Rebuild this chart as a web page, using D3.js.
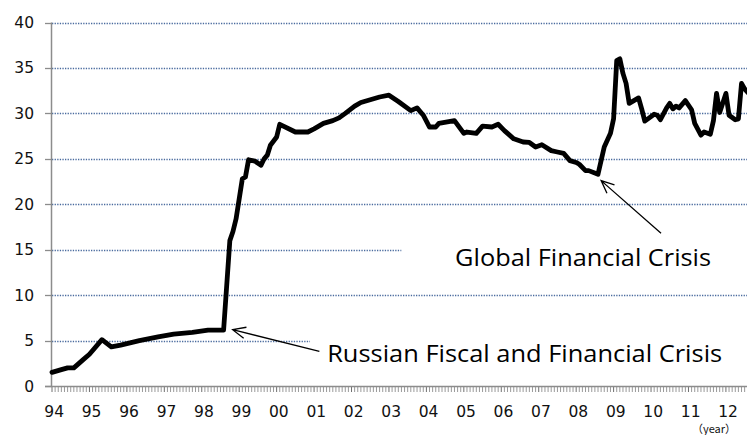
<html>
<head>
  <meta charset="utf-8">
  <script src="https://d3js.org/d3.v7.min.js"></script>
  <style>
    body { margin: 0; background: #fff; }
    svg { display: block; }
  </style>
</head>
<body>
  <script>
    // year labels on the x axis (one every 12 months, starting Jan 1994)
    let yearLabels = ["94","95","96","97","98","99","00","01","02","03","04","05","06","07","08","09","10","11","12"];
    let yTicks = [0, 5, 10, 15, 20, 25, 30, 35, 40];

    // months since Jan 1994 and the value read for that month
    let monthIdx = [0, 3, 5, 7, 10, 12, 16, 19, 22, 28, 34, 39, 45, 50, 55,
      57, 58, 59, 61, 62, 63, 65, 67, 68, 69, 70, 72, 73, 78, 82, 84, 87, 90, 92, 94, 97, 99,
      102, 105, 108, 111, 115, 117, 119, 121, 123, 124, 129, 132, 133, 136, 138, 141, 143, 145,
      148, 151, 153, 155, 157, 160, 162, 164, 166, 168, 169, 171, 172, 175, 177, 179, 180, 181,
      182, 183, 184, 185, 188, 189, 190, 191, 193, 194, 195, 197, 198, 199, 200, 201, 203, 205,
      206, 208, 209, 211, 212, 213, 214, 216, 217, 219, 220, 221, 222, 223, 224];
    let values = [1.5, 1.8, 2.0, 2.0, 2.9, 3.5, 5.1, 4.3, 4.5, 5.0, 5.4, 5.7, 5.9, 6.15, 6.15,
      16.0, 17.0, 18.4, 22.8, 23.0, 24.9, 24.75, 24.3, 25.0, 25.4, 26.5, 27.4, 28.8, 27.95, 27.95, 28.3, 28.9, 29.2, 29.5, 30.0, 30.8, 31.2,
      31.5, 31.8, 32.0, 31.3, 30.3, 30.6, 29.8, 28.5, 28.5, 28.9, 29.2, 27.8, 27.95, 27.8, 28.6, 28.5, 28.8, 28.1,
      27.2, 26.85, 26.8, 26.3, 26.55, 25.9, 25.75, 25.6, 24.8, 24.6, 24.4, 23.7, 23.7, 23.3, 26.3, 27.8, 29.4, 35.8,
      36.0, 34.4, 33.3, 31.1, 31.7, 30.5, 29.15, 29.4, 29.9, 29.8, 29.3, 30.6, 31.1, 30.5, 30.8, 30.6, 31.4, 30.4,
      28.9, 27.6, 27.95, 27.7, 29.2, 32.2, 30.1, 32.2, 29.8, 29.3, 29.4, 33.3, 32.7, 32.3, 32.0];

    // annotations: arrow tip / tail and label, in data coordinates
    let notes = [
      { text: "Global Financial Crisis", tip: [176, 22.6], tail: [195.2, 16.8], lx: [129.2, 13.2], len: 256, box: [112, 18.1, 14.0] },
      { text: "Russian Fiscal and Financial Crisis", tip: [57.9, 6.2], tail: [85.7, 3.8], lx: [88.2, 2.65], len: 395, box: [82.7, 5.6, 1.0] }
    ];

    let width = 747;
    let height = 435;
    let left = 52;
    let monthW = 3.12;

    let svg = d3.select("body")
      .append("svg")
      .attr("width", width)
      .attr("height", height);

    let x = d3.scaleLinear()
      .domain([0, 228])
      .range([left, left + 228 * monthW]);

    let y = d3.scaleLinear()
      .domain([0, 40])
      .range([386, 22.5]);

    // gridlines
    svg.append("g")
      .selectAll("line")
      .data(yTicks.filter(d => d > 0))
      .enter()
      .append("line")
      .attr("x1", left)
      .attr("x2", x(228))
      .attr("y1", d => Math.round(y(d)) + 0.5)
      .attr("y2", d => Math.round(y(d)) + 0.5)
      .attr("stroke", "#4a6b9e")
      .attr("stroke-width", 1.3)
      .attr("stroke-dasharray", "1.3,1.3");

    // y axis
    let yAxis = svg.append("g");
    yAxis.append("line")
      .attr("x1", left - 0.5).attr("x2", left - 0.5)
      .attr("y1", y(40)).attr("y2", y(0))
      .attr("stroke", "#8c8c8c").attr("stroke-width", 1.5);
    yAxis.selectAll("line.tick")
      .data(yTicks)
      .enter()
      .append("line")
      .attr("class", "tick")
      .attr("x1", left - 7).attr("x2", left)
      .attr("y1", d => Math.round(y(d)) + 0.5)
      .attr("y2", d => Math.round(y(d)) + 0.5)
      .attr("stroke", "#8c8c8c").attr("stroke-width", 1.3);
    yAxis.selectAll("text")
      .data(yTicks)
      .enter()
      .append("text")
      .attr("x", 34)
      .attr("y", d => y(d) + 5.5)
      .attr("text-anchor", "end")
      .attr("font-family", "DejaVu Sans, sans-serif")
      .attr("font-size", 15.5)
      .attr("fill", "#111")
      .text(d => d);

    // x axis with monthly ticks
    let xAxis = svg.append("g");
    xAxis.selectAll("line.mtick")
      .data(d3.range(0, 229))
      .enter()
      .append("line")
      .attr("class", "mtick")
      .attr("x1", d => x(d)).attr("x2", d => x(d))
      .attr("y1", 386).attr("y2", 392)
      .attr("stroke", d => d % 12 === 0 ? "#6f6f6f" : "#9a9a9a")
      .attr("stroke-width", 1);
    xAxis.append("line")
      .attr("x1", left - 7).attr("x2", x(228))
      .attr("y1", 386.5).attr("y2", 386.5)
      .attr("stroke", "#8c8c8c").attr("stroke-width", 1.5);
    xAxis.selectAll("text")
      .data(yearLabels)
      .enter()
      .append("text")
      .attr("x", (d, i) => x(i * 12 + 0.7))
      .attr("y", 417)
      .attr("text-anchor", "middle")
      .attr("font-family", "DejaVu Sans, sans-serif")
      .attr("font-size", 15.5)
      .attr("fill", "#111")
      .text(d => d);
    svg.append("text")
      .attr("x", 714)
      .attr("y", 433)
      .attr("text-anchor", "middle")
      .attr("font-family", "Noto Sans CJK JP, sans-serif")
      .attr("font-size", 11)
      .attr("fill", "#111")
      .text("（year）");

    // annotation backgrounds cover gridlines
    svg.append("g")
      .selectAll("rect")
      .data(notes)
      .enter()
      .append("rect")
      .attr("x", d => x(d.box[0]))
      .attr("y", d => y(d.box[1]))
      .attr("width", d => width - x(d.box[0]))
      .attr("height", d => y(d.box[2]) - y(d.box[1]))
      .attr("fill", "#fff");

    // series line
    let series = monthIdx.map((m, i) => [m, values[i]]);
    svg.append("path")
      .datum(series)
      .attr("fill", "none")
      .attr("stroke", "#000")
      .attr("stroke-width", 4.8)
      .attr("stroke-linejoin", "round")
      .attr("stroke-linecap", "round")
      .attr("d", d3.line()
        .x(d => x(d[0]))
        .y(d => y(d[1])));

    // arrows and labels
    let ann = svg.append("g");
    notes.forEach(function(n) {
      let tx = x(n.tip[0]), ty = y(n.tip[1]);
      let sx = x(n.tail[0]), sy = y(n.tail[1]);
      let ang = Math.atan2(sy - ty, sx - tx);
      let a = 14, spread = 0.42;
      let p1 = [tx + a * Math.cos(ang - spread), ty + a * Math.sin(ang - spread)];
      let p2 = [tx + a * Math.cos(ang + spread), ty + a * Math.sin(ang + spread)];
      ann.append("path")
        .attr("d", "M" + sx + "," + sy + "L" + tx + "," + ty +
          "M" + p1[0] + "," + p1[1] + "L" + tx + "," + ty + "L" + p2[0] + "," + p2[1])
        .attr("fill", "none")
        .attr("stroke", "#000")
        .attr("stroke-width", 1.3);
      ann.append("text")
        .attr("x", x(n.lx[0]))
        .attr("y", y(n.lx[1]))
        .attr("font-family", "Open Sans, sans-serif")
        .attr("font-size", 23.5)
        .attr("textLength", n.len)
        .attr("lengthAdjust", "spacingAndGlyphs")
        .attr("fill", "#000")
        .text(n.text);
    });
  </script>
</body>
</html>
